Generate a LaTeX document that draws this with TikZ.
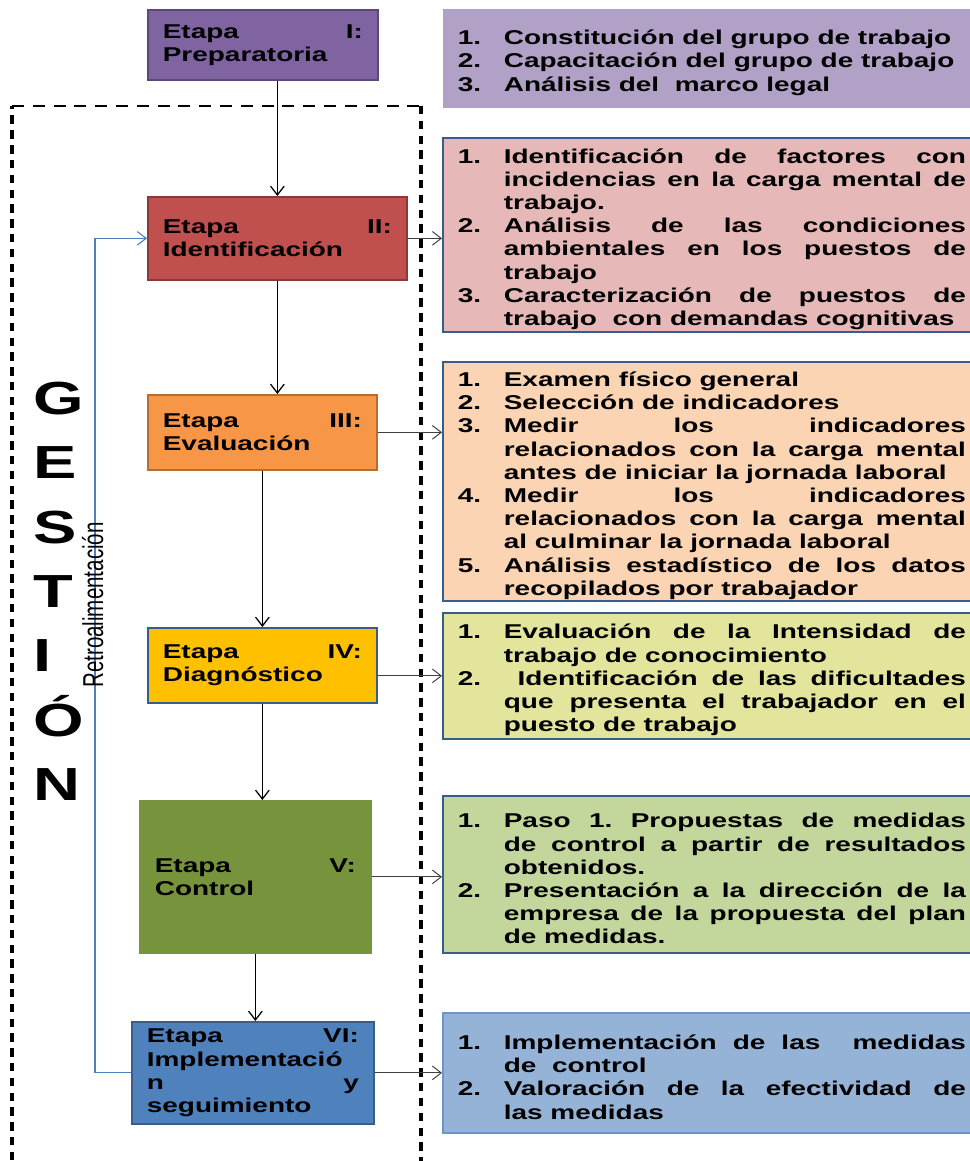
\documentclass[tikz,border=0pt]{standalone}
\usepackage{fontspec}
\usepackage{graphicx}
\setmainfont{Liberation Sans}[FakeStretch=1.4]
\newfontfamily\plainsans{Liberation Sans}
\definecolor{PrepPurple}{HTML}{8064A2}
\definecolor{PrepEdge}{HTML}{5C4776}
\definecolor{IdentRed}{HTML}{C0504D}
\definecolor{IdentEdge}{HTML}{8C3836}
\definecolor{EvalOrange}{HTML}{F79646}
\definecolor{EvalEdge}{HTML}{B66D31}
\definecolor{DiagGold}{HTML}{FFC000}
\definecolor{CtrlGreen}{HTML}{77933C}
\definecolor{ImplBlue}{HTML}{4F81BD}
\definecolor{EdgeBlue}{HTML}{385D8A}
\definecolor{SoftEdge}{HTML}{6F95C8}
\definecolor{LightPurple}{HTML}{B2A1C7}
\definecolor{LightRed}{HTML}{E6B9B8}
\definecolor{LightOrange}{HTML}{FBD4B4}
\definecolor{LightYellow}{HTML}{E3E59C}
\definecolor{LightGreen}{HTML}{C3D69B}
\definecolor{LightBlue}{HTML}{95B3D7}
\definecolor{ArrowGray}{HTML}{404040}
\usetikzlibrary{arrows.meta}
\tolerance=10000
\hbadness=10000
\frenchspacing
\newcommand\tarea[2]{\par\hangindent=1.15cm\hangafter=1\noindent\makebox[1.15cm][l]{#1.}#2\par}
\newcommand\etsep{\hskip 0pt plus 1filll\relax}

\begin{document}
\begin{tikzpicture}[
  x=0.025cm, y=-0.025cm,
  stage/.style={draw, line width=1.2pt, anchor=north west, inner xsep=0.375cm,
                inner ysep=1pt, align=left,
                font=\bfseries\fontsize{14.2}{16.5}\selectfont},
  rbox/.style={draw=EdgeBlue, line width=1.2pt, anchor=north west,
               text width=12.7cm, inner xsep=0.375cm, inner ysep=1pt,
               align=justify, font=\bfseries\fontsize{14.2}{16.5}\selectfont},
  arr/.style={-{Straight Barb[length=2.2mm,width=3.4mm]}, line width=0.9pt},
  sidearr/.style={arr, draw=ArrowGray, line width=0.7pt},
  feedback/.style={arr, draw=ImplBlue, line width=0.8pt},
  frameh/.style={line width=2pt, dash pattern=on 0.3cm off 0.22cm},
  framev/.style={line width=2.3pt, dash pattern=on 0.21cm off 0.16cm}
]
  \useasboundingbox (0,0) rectangle (970,1161);

  % Gestion frame
  \draw[framev] (12,1175) -- (12,106);
  \draw[frameh] (12,106) -- (421,106);
  \draw[framev] (421,106) -- (421,1175);

  \node[anchor=north west, inner sep=0pt, align=left,
        font=\bfseries\fontsize{33}{45.7}\selectfont] (gestion) at (33,382)
    {G\\E\\S\\T\\I\\Ó\\N};

  % Stages
  \node[stage, fill=PrepPurple, draw=PrepEdge, text width=5cm, minimum height=1.75cm]
    (s1) at (147,9) {Etapa\etsep I:\\Preparatoria};
  \node[stage, fill=IdentRed, draw=IdentEdge, text width=5.725cm, minimum height=2.075cm]
    (s2) at (147,196) {Etapa\etsep II:\\Identificación};
  \node[stage, fill=EvalOrange, draw=EvalEdge, text width=4.975cm, minimum height=1.875cm]
    (s3) at (147,394) {Etapa\etsep III:\\Evaluación};
  \node[stage, fill=DiagGold, draw=EdgeBlue, text width=4.975cm, minimum height=1.875cm]
    (s4) at (147,627) {Etapa\etsep IV:\\Diagnóstico};
  \node[stage, fill=CtrlGreen, draw=CtrlGreen, text width=5.025cm, minimum height=3.8cm]
    (s5) at (139,800) {Etapa\etsep V:\\Control};
  \node[stage, fill=ImplBlue, draw=EdgeBlue, text width=5.3cm, minimum height=2.55cm]
    (s6) at (131,1021) {Etapa\etsep VI:\\Implementació\\n\etsep y\\seguimiento};

  % Tasks of each stage
  \node[rbox, fill=LightPurple, draw=none, minimum height=2.475cm] (r1) at (442,8) {%
    \tarea{1}{Constitución del grupo de trabajo}
    \tarea{2}{Capacitación del grupo de trabajo}
    \tarea{3}{Análisis del\ \ marco legal}};
  \node[rbox, fill=LightRed, minimum height=4.85cm] (r2) at (442,137) {%
    \tarea{1}{Identificación de factores con\linebreak incidencias en la carga mental de\linebreak trabajo.}
    \tarea{2}{Análisis de las condiciones\linebreak ambientales en los puestos de\linebreak trabajo}
    \tarea{3}{Caracterización de puestos de\linebreak trabajo\ \ con demandas cognitivas}};
  \node[rbox, fill=LightOrange, minimum height=5.825cm] (r3) at (442,361) {%
    \tarea{1}{Examen físico general}
    \tarea{2}{Selección de indicadores}
    \tarea{3}{Medir los indicadores\linebreak relacionados con la carga mental\linebreak antes de iniciar la jornada laboral}
    \tarea{4}{Medir los indicadores\linebreak relacionados con la carga mental\linebreak al culminar la jornada laboral}
    \tarea{5}{Análisis estadístico de los datos\linebreak recopilados por trabajador}};
  \node[rbox, fill=LightYellow, minimum height=3.15cm] (r4) at (442,612) {%
    \tarea{1}{Evaluación de la Intensidad de\linebreak trabajo de conocimiento}
    \tarea{2}{\ Identificación de las dificultades\linebreak que presenta el trabajador en el\linebreak puesto de trabajo}};
  \node[rbox, fill=LightGreen, minimum height=3.925cm] (r5) at (442,795) {%
    \tarea{1}{Paso 1. Propuestas de medidas\linebreak de control a partir de resultados\linebreak obtenidos.}
    \tarea{2}{Presentación a la dirección de la\linebreak empresa de la propuesta del plan\linebreak de medidas.}};
  \node[rbox, fill=LightBlue, draw=SoftEdge, minimum height=3cm] (r6) at (442,1012) {%
    \tarea{1}{Implementación de las\ \ medidas\linebreak de\ \ control}
    \tarea{2}{Valoración de la efectividad de\linebreak las medidas}};

  % Flow between stages
  \draw[arr] (s2.north |- s1.south) -- (s2.north);
  \draw[arr] (s2.south) -- (s2.south |- s3.north);
  \draw[arr] (s3.south) -- (s3.south |- s4.north);
  \draw[arr] (s4.south) -- (s4.south |- s5.north);
  \draw[arr] (s5.south) -- (s5.south |- s6.north);

  % Stage -> tasks
  \draw[sidearr] (s2.east) -- (s2.east -| r2.west);
  \draw[sidearr] (s3.east) -- (s3.east -| r3.west);
  \draw[sidearr] (r4.west -| s4.east) -- (r4.west);
  \draw[sidearr] (s5.east) -- (s5.east -| r5.west);
  \draw[sidearr] (s6.east) -- (s6.east -| r6.west);

  % Feedback loop
  \draw[feedback] (s6.west) -- ++(-36,0) |- (s2.west);
  \node[rotate=90, anchor=base, inner sep=0pt,
        font=\plainsans\fontsize{14.6}{16}\selectfont] (retro) at (103,605)
    {\scalebox{1}[1.4]{Retroalimentación}};
\end{tikzpicture}
\end{document}
